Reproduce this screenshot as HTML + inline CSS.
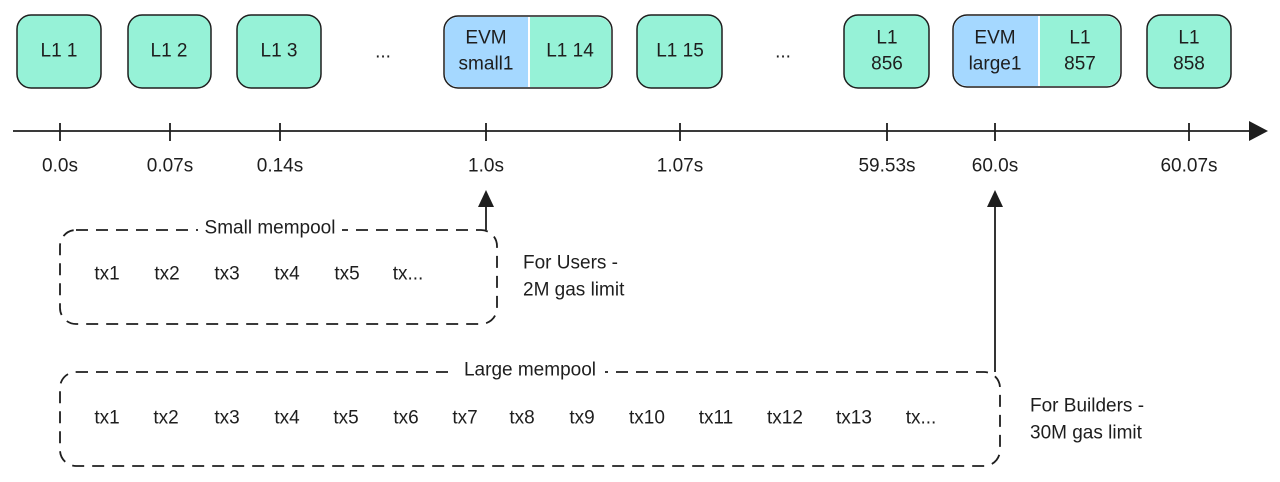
<!DOCTYPE html>
<html><head><meta charset="utf-8"><style>
html,body{margin:0;padding:0;background:#fff;width:1280px;height:482px;overflow:hidden}
svg text{font-family:"Liberation Sans","DejaVu Sans",sans-serif;font-size:19px;fill:#1e1e1e;text-anchor:middle;dominant-baseline:central}
</style></head><body>
<svg width="1280" height="482" viewBox="0 0 1280 482" xmlns="http://www.w3.org/2000/svg">
<g stroke="#1e1e1e" stroke-width="1.5" fill="#96f2d7">
<rect x="17" y="15" width="84" height="73" rx="14"/>
<rect x="128" y="15" width="83" height="73" rx="14"/>
<rect x="237" y="15" width="84" height="73" rx="14"/>
<rect x="637" y="15" width="85" height="73" rx="14"/>
<rect x="844" y="15" width="85" height="73" rx="14"/>
<rect x="1147" y="15" width="84" height="73" rx="14"/>
</g>
<rect x="444" y="16" width="168" height="72" rx="14" fill="#fff" stroke="#1e1e1e" stroke-width="1.5"/>
<path d="M458 17 H528 V87 H458 A13 13 0 0 1 445 74 V30 A13 13 0 0 1 458 17Z" fill="#a5d8ff"/>
<path d="M530 17 H598 A13 13 0 0 1 611 30 V74 A13 13 0 0 1 598 87 H530Z" fill="#96f2d7"/>
<rect x="953" y="15" width="168" height="72" rx="14" fill="#fff" stroke="#1e1e1e" stroke-width="1.5"/>
<path d="M967 16 H1038 V86 H967 A13 13 0 0 1 954 73 V29 A13 13 0 0 1 967 16Z" fill="#a5d8ff"/>
<path d="M1040 16 H1107 A13 13 0 0 1 1120 29 V73 A13 13 0 0 1 1107 86 H1040Z" fill="#96f2d7"/>
<text x="59" y="51">L1 1</text>
<text x="169" y="51">L1 2</text>
<text x="279" y="51">L1 3</text>
<text x="383" y="52">...</text>
<text x="486" y="38">EVM</text><text x="486" y="64">small1</text>
<text x="570" y="51">L1 14</text>
<text x="680" y="51">L1 15</text>
<text x="783" y="52">...</text>
<text x="887" y="38">L1</text><text x="887" y="64">856</text>
<text x="995" y="38">EVM</text><text x="995" y="64">large1</text>
<text x="1080" y="38">L1</text><text x="1080" y="64">857</text>
<text x="1189" y="38">L1</text><text x="1189" y="64">858</text>
<g stroke="#1e1e1e" stroke-width="1.8">
<line x1="13" y1="131" x2="1252" y2="131"/>
<line x1="60" y1="123" x2="60" y2="141"/>
<line x1="170" y1="123" x2="170" y2="141"/>
<line x1="280" y1="123" x2="280" y2="141"/>
<line x1="486" y1="123" x2="486" y2="141"/>
<line x1="680" y1="123" x2="680" y2="141"/>
<line x1="887" y1="123" x2="887" y2="141"/>
<line x1="995" y1="123" x2="995" y2="141"/>
<line x1="1189" y1="123" x2="1189" y2="141"/>
<line x1="486" y1="230" x2="486" y2="205"/>
<line x1="995" y1="372" x2="995" y2="205"/>
</g>
<polygon points="1268,131 1249,121 1249,141" fill="#1e1e1e"/>
<polygon points="486,190 478,207 494,207" fill="#1e1e1e"/>
<polygon points="995,190 987,207 1003,207" fill="#1e1e1e"/>
<text x="60" y="166">0.0s</text>
<text x="170" y="166">0.07s</text>
<text x="280" y="166">0.14s</text>
<text x="486" y="166">1.0s</text>
<text x="680" y="166">1.07s</text>
<text x="887" y="166">59.53s</text>
<text x="995" y="166">60.0s</text>
<text x="1189" y="166">60.07s</text>
<g fill="none" stroke="#1e1e1e" stroke-width="1.8" stroke-dasharray="12 8">
<rect x="60" y="230" width="437" height="94" rx="16"/>
<rect x="60" y="372" width="940" height="94" rx="16"/>
</g>
<rect x="198" y="218" width="144" height="22" fill="#fff"/>
<text x="270" y="228">Small mempool</text>
<rect x="455" y="360" width="150" height="22" fill="#fff"/>
<text x="530" y="370">Large mempool</text>
<text x="107" y="274">tx1</text><text x="167" y="274">tx2</text><text x="227" y="274">tx3</text>
<text x="287" y="274">tx4</text><text x="347" y="274">tx5</text><text x="408" y="274">tx...</text>
<text x="107" y="418">tx1</text><text x="166" y="418">tx2</text><text x="227" y="418">tx3</text>
<text x="287" y="418">tx4</text><text x="346" y="418">tx5</text><text x="406" y="418">tx6</text>
<text x="465" y="418">tx7</text><text x="522" y="418">tx8</text><text x="582" y="418">tx9</text>
<text x="647" y="418">tx10</text><text x="716" y="418">tx11</text><text x="785" y="418">tx12</text>
<text x="854" y="418">tx13</text><text x="921" y="418">tx...</text>
<text x="523" y="263" style="text-anchor:start">For Users -</text>
<text x="523" y="290" style="text-anchor:start">2M gas limit</text>
<text x="1030" y="406" style="text-anchor:start">For Builders -</text>
<text x="1030" y="433" style="text-anchor:start">30M gas limit</text>
</svg>
</body></html>
